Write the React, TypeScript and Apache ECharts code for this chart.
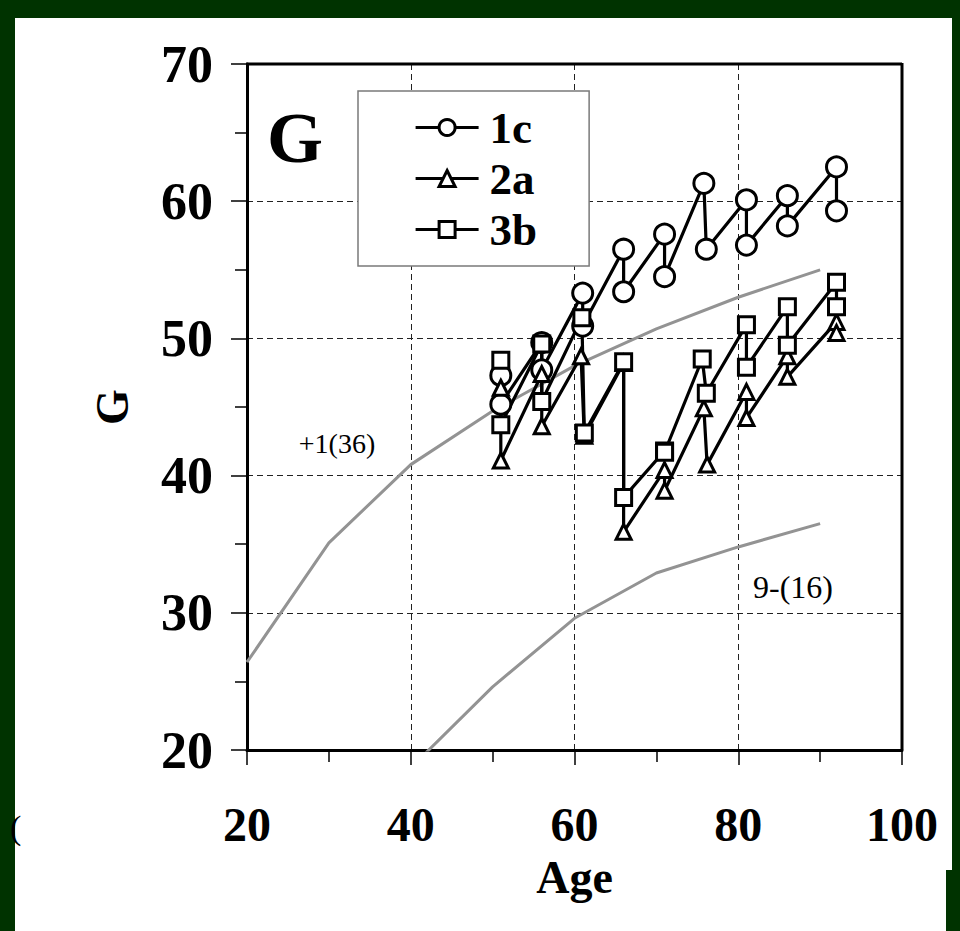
import React, { useEffect, useRef } from "react";
import * as echarts from "echarts";

// Longitudinal measurements (each age: first and second measurement)
const ages1c = [51, 51, 56, 56, 61, 61, 66, 66, 71, 71, 75.8, 76.1, 81, 81, 86, 86, 92, 92];
const values1c = [47.3, 45.2, 49.7, 47.7, 53.3, 50.9, 56.5, 53.4, 57.6, 54.5, 61.3, 56.5, 60.1, 56.8, 60.4, 58.2, 62.5, 59.3];

const ages2a = [51, 51, 56, 56, 60.8, 61.2, 66, 66, 71, 71, 75.8, 76.2, 81, 81, 86, 86, 92, 92];
const values2a = [46.4, 41.1, 47.4, 43.6, 48.7, 42.9, 48.2, 35.9, 40.4, 38.9, 44.9, 40.8, 46.1, 44.2, 48.7, 47.2, 51.2, 50.4];

const ages3b = [51, 51, 56, 56, 60.9, 61.2, 66, 66, 71, 71, 75.6, 76.1, 81, 81, 86, 86, 92, 92];
const values3b = [48.4, 43.7, 49.6, 45.4, 51.5, 43.1, 48.3, 38.4, 41.8, 41.7, 48.5, 46.0, 51.0, 47.9, 52.3, 49.5, 54.1, 52.3];

// Reference curves
const refPlusAges = [20, 30, 40, 50, 60, 70, 80, 90];
const refPlusValues = [26.4, 35.1, 40.8, 44.7, 48.0, 50.7, 53.0, 55.0];
const refNineAges = [40, 50, 60, 70, 80, 90];
const refNineValues = [18.7, 24.6, 29.6, 32.9, 34.8, 36.5];

const seriesNames = ["1c", "2a", "3b"];
const xTicks = [20, 40, 60, 80, 100];
const yTicks = [20, 30, 40, 50, 60, 70];

const FONT = "Liberation Serif";

const zip = (xs: number[], ys: number[]) => xs.map((x, i) => [x, ys[i]]);

export default function App() {
  const ref = useRef<HTMLDivElement>(null);
  useEffect(() => {
    if (!ref.current) return;
    const chart = echarts.init(ref.current, null, { renderer: "svg" });
    const markerSeries = (name: string, symbol: string, size: number, data: number[][]) => ({
      name,
      type: "line",
      data,
      symbol,
      symbolSize: size,
      showAllSymbol: true,
      lineStyle: { color: "#000", width: 3.2 },
      itemStyle: { color: "#fff", borderColor: "#000", borderWidth: 3 },
      emphasis: { disabled: true },
      z: 3,
    });
    const grayCurve = (name: string, data: number[][]) => ({
      name,
      type: "line",
      data,
      symbol: "none",
      lineStyle: { color: "#939393", width: 3 },
      emphasis: { disabled: true },
      z: 2,
    });
    chart.setOption({
      animation: false,
      backgroundColor: "#003300",
      grid: { left: 247, top: 64, right: 58, bottom: 181, show: false },
      xAxis: {
        type: "value",
        min: xTicks[0],
        max: xTicks[xTicks.length - 1],
        interval: 20,
        name: "Age",
        nameLocation: "middle",
        nameGap: 104,
        nameTextStyle: { fontFamily: FONT, fontWeight: "bold", fontSize: 46, color: "#000" },
        axisLine: { show: true, onZero: false, lineStyle: { color: "#000", width: 3 } },
        axisTick: { show: true, length: 15, lineStyle: { color: "#000", width: 1.5 } },
        minorTick: { show: true, splitNumber: 2, length: 12, lineStyle: { color: "#000", width: 1.5 } },
        splitLine: { show: true, lineStyle: { color: "#222", width: 1, type: [6, 4] } },
        axisLabel: { margin: 50, fontFamily: FONT, fontWeight: "bold", fontSize: 48, color: "#000" },
      },
      yAxis: {
        type: "value",
        min: yTicks[0],
        max: yTicks[yTicks.length - 1],
        interval: 10,
        name: "G",
        nameLocation: "middle",
        nameRotate: 90,
        nameGap: 112,
        nameTextStyle: { fontFamily: FONT, fontWeight: "bold", fontSize: 46, color: "#000" },
        axisLine: { show: true, onZero: false, lineStyle: { color: "#000", width: 3 } },
        axisTick: { show: true, length: 16, lineStyle: { color: "#000", width: 1.5 } },
        minorTick: { show: true, splitNumber: 2, length: 12, lineStyle: { color: "#000", width: 1.5 } },
        splitLine: { show: true, lineStyle: { color: "#222", width: 1, type: [6, 4] } },
        axisLabel: { margin: 34, fontFamily: FONT, fontWeight: "bold", fontSize: 52, color: "#000" },
      },
      legend: {
        data: seriesNames,
        orient: "vertical",
        left: 358,
        top: 91,
        padding: [11, 52, 11, 56],
        itemGap: 0,
        itemWidth: 63,
        itemHeight: 20,
        backgroundColor: "#fff",
        borderColor: "#7a7a7a",
        borderWidth: 1.5,
        selectedMode: false,
        lineStyle: { color: "#000", width: 3.2 },
        itemStyle: { color: "#fff", borderColor: "#000", borderWidth: 3 },
        textStyle: { fontFamily: FONT, fontWeight: "bold", fontSize: 45, lineHeight: 51, color: "#000", padding: [0, 0, 0, 6] },
      },
      graphic: [
        { type: "rect", z: -100, silent: true, shape: { x: 15, y: 18, width: 937, height: 913 }, style: { fill: "#fff" } },
        { type: "rect", z: -99, silent: true, shape: { x: 946, y: 870, width: 14, height: 61 }, style: { fill: "#003300" } },
        // plot frame (top and right sides)
        { type: "line", z: 50, silent: true, shape: { x1: 246, y1: 64, x2: 902, y2: 64 }, style: { stroke: "#000", lineWidth: 3 } },
        { type: "line", z: 50, silent: true, shape: { x1: 902, y1: 63, x2: 902, y2: 750 }, style: { stroke: "#000", lineWidth: 3 } },
        { type: "text", z: 50, silent: true, x: 295, y: 138, style: { text: "G", fontFamily: FONT, fontWeight: "bold", fontSize: 72, fill: "#000", align: "center", verticalAlign: "middle" } },
        { type: "text", z: 50, silent: true, x: 337, y: 443, style: { text: "+1(36)", fontFamily: FONT, fontSize: 28, fill: "#000", align: "center", verticalAlign: "middle" } },
        { type: "text", z: 50, silent: true, x: 793, y: 587, style: { text: "9-(16)", fontFamily: FONT, fontSize: 32, fill: "#000", align: "center", verticalAlign: "middle" } },
        { type: "text", z: 50, silent: true, x: 10, y: 827, style: { text: "(", fontFamily: FONT, fontSize: 34, fill: "#000", align: "left", verticalAlign: "middle" } },
      ],
      series: [
        grayCurve("+1(36)", zip(refPlusAges, refPlusValues)),
        grayCurve("9-(16)", zip(refNineAges, refNineValues)),
        markerSeries("1c", "circle", 20, zip(ages1c, values1c)),
        markerSeries("2a", "triangle", 15, zip(ages2a, values2a)),
        markerSeries("3b", "rect", 16, zip(ages3b, values3b)),
      ],
    });
    return () => chart.dispose();
  }, []);
  return (
    <div
      ref={ref}
      style={{ position: "fixed", left: 0, top: 0, width: 960, height: 931 }}
    />
  );
}
